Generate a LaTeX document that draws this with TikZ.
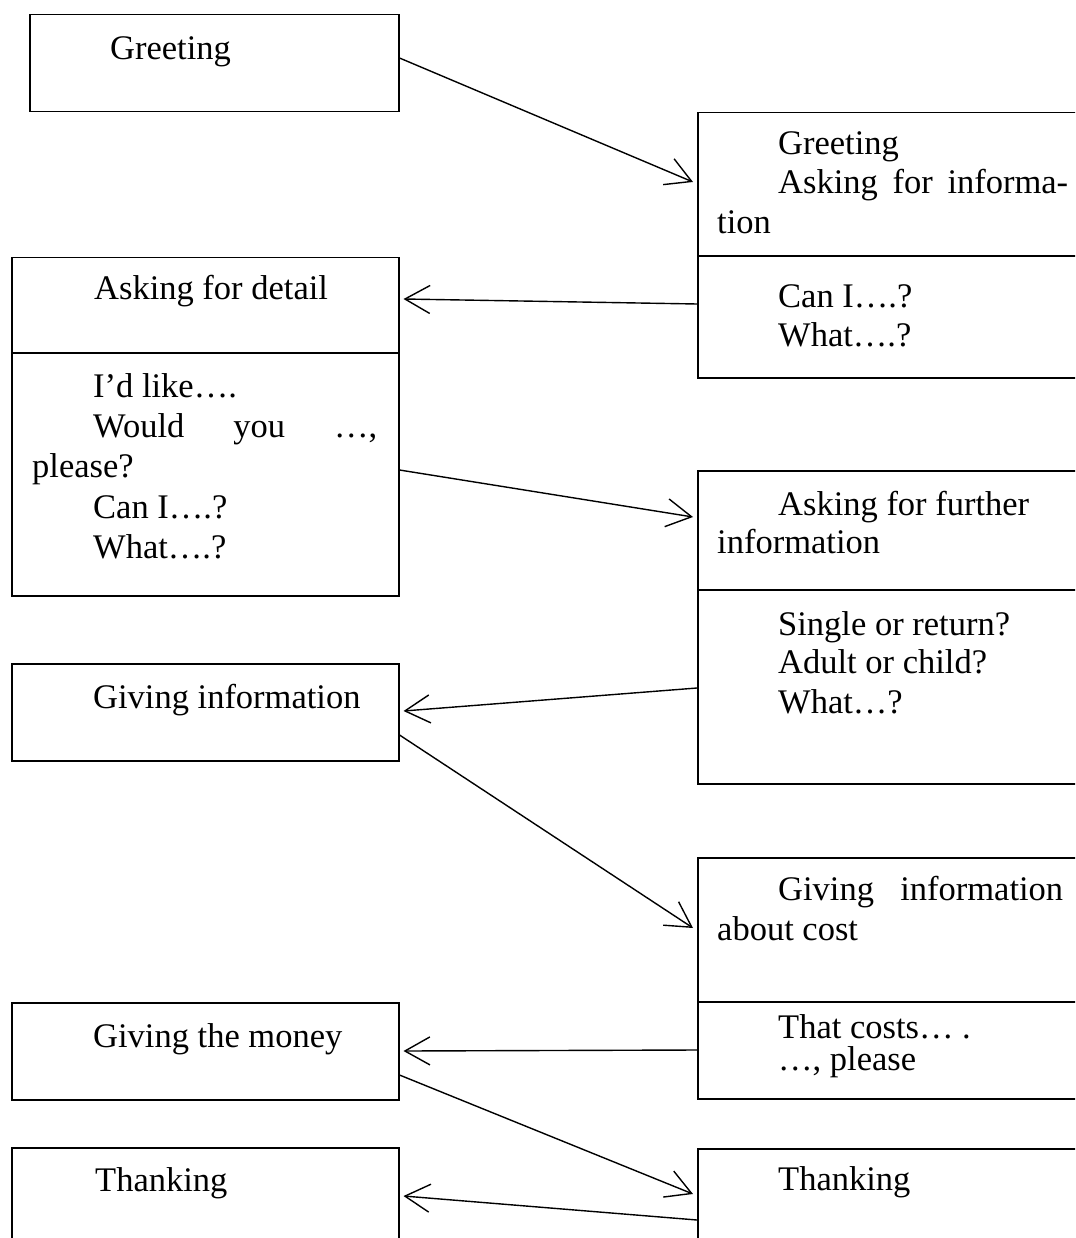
\documentclass[tikz,border=0pt]{standalone}
\usepackage{fontspec}
\setmainfont{Liberation Serif}
\usetikzlibrary{arrows.meta}
\begin{document}
\begin{tikzpicture}[x=1pt,y=-1pt,
  box/.style={draw,line width=1.5pt,rectangle,anchor=north west,inner sep=0pt},
  txt/.style={anchor=base west,inner sep=0pt,font=\fontsize{34.5}{40}\selectfont},
  arr/.style={line width=1.4pt,-{Straight Barb[length=25pt,width=28pt]}},
  divider/.style={line width=1.5pt}]
\useasboundingbox (0,0) rectangle (1075,1238);
\clip (0,0) rectangle (1075,1238);
\fill[white] (0,0) rectangle (1075,1238);
% left boxes
\node[box,minimum width=369pt,minimum height=97pt] (L1) at (29,14) {};
\node[box,minimum width=387pt,minimum height=338pt] (L2) at (11,257) {};
\node[box,minimum width=387pt,minimum height=97pt] (L3) at (11,663) {};
\node[box,minimum width=387pt,minimum height=97pt] (L4) at (11,1002) {};
\node[box,minimum width=387pt,minimum height=130pt] (L5) at (11,1147) {};
% right boxes (cut by the page edge)
\node[box,minimum width=420pt,minimum height=265pt] (R1) at (697,112) {};
\node[box,minimum width=420pt,minimum height=313pt] (R2) at (697,470) {};
\node[box,minimum width=420pt,minimum height=241pt] (R3) at (697,857) {};
\node[box,minimum width=420pt,minimum height=130pt] (R4) at (697,1148) {};
% dividers
\draw[divider] ([yshift=-144pt]R1.north west) -- ([yshift=-144pt]R1.north east);
\draw[divider] ([yshift=-96pt]L2.north west) -- ([yshift=-96pt]L2.north east);
\draw[divider] ([yshift=-120pt]R2.north west) -- ([yshift=-120pt]R2.north east);
\draw[divider] ([yshift=-145pt]R3.north west) -- ([yshift=-145pt]R3.north east);
% texts
\node[txt] (t1) at (110,60) {Greeting};
\node[txt] (t2) at (778,155) {Greeting};
\node[txt] (t3) at (778,194) {\makebox[290pt][s]{Asking\hfill for\hfill informa-}};
\node[txt] (t4) at (717,234) {tion};
\node[txt] (t5) at (778,307) {Can I….?};
\node[txt] (t6) at (778,346) {What….?};
\node[txt] (t7) at (94,300) {Asking for detail};
\node[txt] (t8) at (93,397) {I’d like….};
\node[txt] (t9) at (93,437) {\makebox[284pt][s]{Would\hfill you\hfill …,}};
\node[txt] (t10) at (32,477) {please?};
\node[txt] (t11) at (93,518) {Can I….?};
\node[txt] (t12) at (93,558) {What….?};
\node[txt] (t13) at (778,515) {Asking for further};
\node[txt] (t14) at (717,553) {information};
\node[txt] (t15) at (778,635) {Single or return?};
\node[txt] (t16) at (778,673) {Adult or child?};
\node[txt] (t17) at (778,713) {What…?};
\node[txt] (t18) at (93,708) {Giving information};
\node[txt] (t19) at (778,900) {\makebox[285pt][s]{Giving\hfill information}};
\node[txt] (t20) at (717,940) {about cost};
\node[txt] (t21) at (778,1038) {That costs… .};
\node[txt] (t22) at (778,1070) {…, please};
\node[txt] (t23) at (93,1047) {Giving the money};
\node[txt] (t24) at (95,1191) {Thanking};
\node[txt] (t25) at (778,1190) {Thanking};
% connectors
\draw[arr] ([yshift=-44pt]L1.north east) -- ([xshift=-4pt,yshift=-70pt]R1.north west);
\draw[arr] ([yshift=-192pt]R1.north west) -- ([xshift=4pt,yshift=-42pt]L2.north east);
\draw[arr] ([yshift=-213pt]L2.north east) -- ([xshift=-4pt,yshift=-47pt]R2.north west);
\draw[arr] ([yshift=-218pt]R2.north west) -- ([xshift=4pt,yshift=-48pt]L3.north east);
\draw[arr] ([yshift=-72pt]L3.north east) -- ([xshift=-4pt,yshift=-71pt]R3.north west);
\draw[arr] ([yshift=-193pt]R3.north west) -- ([xshift=4pt,yshift=-49pt]L4.north east);
\draw[arr] ([yshift=-73pt]L4.north east) -- ([xshift=-4pt,yshift=-46pt]R4.north west);
\draw[arr] ([yshift=-72pt]R4.north west) -- ([xshift=4pt,yshift=-49pt]L5.north east);
\end{tikzpicture}
\end{document}
